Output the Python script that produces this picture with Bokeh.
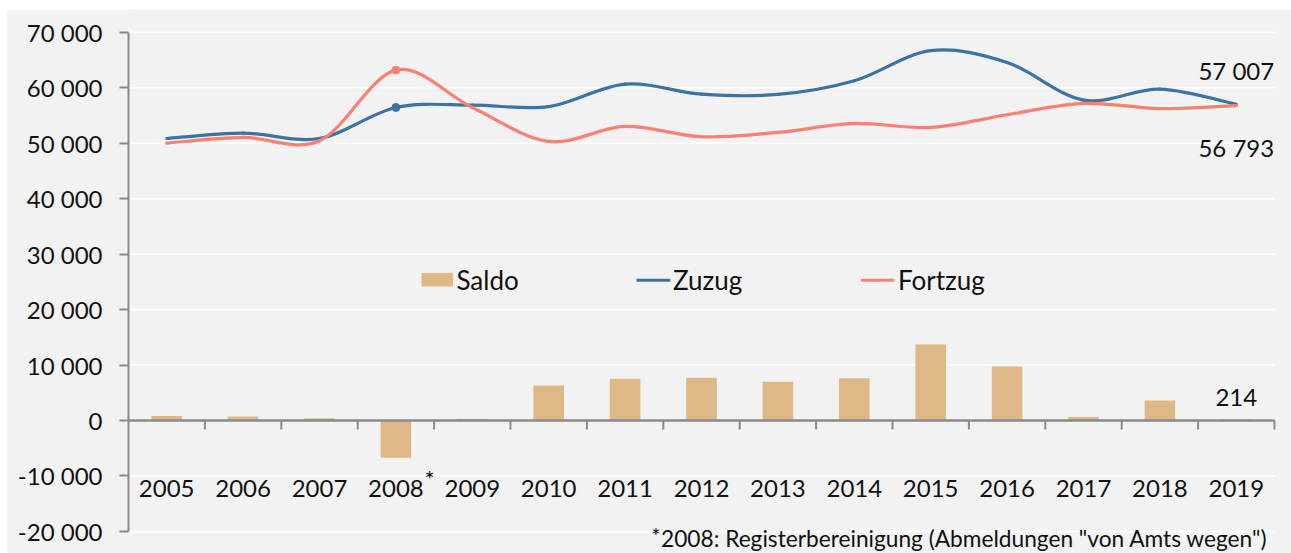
from bokeh.plotting import figure
from bokeh.models import Range1d, FixedTicker
from bokeh.core.properties import value
from bokeh.embed import file_html
from bokeh.resources import INLINE

# ---------------- data ----------------
years = ["2005", "2006", "2007", "2008", "2009", "2010", "2011", "2012",
         "2013", "2014", "2015", "2016", "2017", "2018", "2019"]
zuzug = [50860, 51840, 50860, 56450, 56880, 56600, 60660, 58860,
         58800, 61260, 66700, 64570, 57780, 59750, 57007]
fortzug = [50030, 51050, 50450, 63190, 56450, 50330, 53030, 51170,
           51950, 53570, 52850, 55140, 57180, 56250, 56793]
saldo = [830, 700, 400, -6700, 300, 6300, 7550, 7700,
         6970, 7600, 13700, 9730, 650, 3600, 214]
y_ticks = [-20000, -10000, 0, 10000, 20000, 30000, 40000, 50000, 60000, 70000]
y_tick_labels = ["-20 000", "-10 000", "0", "10 000", "20 000", "30 000",
                 "40 000", "50 000", "60 000", "70 000"]
series_names = ["Saldo", "Zuzug", "Fortzug"]
footnote_mark = "*"
footnote_text = "2008: Registerbereinigung  (Abmeldungen \"von Amts wegen\")"
marked_year = "2008"

# ---------------- style ----------------
BG = "#f2f2f2"
BLUE = "#3b74a3"
SALMON = "#fa8072"
BAR = "#deb887"
AXIS = "#8a8a8a"
TXT = "#111111"
FONT = "Lato"

OX, OY = 6, 9                # figure origin on the page
W, H = 1291 - OX, 553 - OY
AXIS_X = 128                 # page x of the value axis
ZERO_Y = 420                 # page y of value 0
CAT_PX = 76.4                # pixels per category
Y_PX = 55.45 / 10000         # pixels per unit
LEFT = AXIS_X - OX
TS = 9                       # text baseline correction (px)


def fx(page_x):  # page pixel x -> data x
    return (page_x - AXIS_X) / CAT_PX - 0.5


def fy(page_y):  # page pixel y -> data y
    return (ZERO_Y - page_y) / Y_PX


def ty(page_y):  # text baseline page y -> data y
    return fy(page_y - TS)


def fmt(v):
    s = f"{abs(v):,}".replace(",", " ")
    return ("-" if v < 0 else "") + s


n = len(years)
idx = list(range(n))

p = figure(width=W, height=H, output_backend="svg", toolbar_location=None,
           x_range=Range1d(-0.5, fx(1291)), y_range=Range1d(fy(553), fy(OY)),
           x_axis_location=None, min_border_left=LEFT, min_border_right=0,
           min_border_top=0, min_border_bottom=0,
           background_fill_color=BG, border_fill_color=BG,
           outline_line_color=None,
           styles={"margin-left": f"{OX}px", "margin-top": f"{OY}px"})
p.xgrid.visible = False
p.ygrid.visible = False

# y axis
ax = p.yaxis[0]
ax.ticker = FixedTicker(ticks=y_ticks)
ax.major_label_overrides = {t: l for t, l in zip(y_ticks, y_tick_labels)}
ax.bounds = (y_ticks[0], y_ticks[-1])
ax.axis_line_color = AXIS
ax.axis_line_width = 2
ax.major_tick_line_color = AXIS
ax.major_tick_line_width = 2
ax.major_tick_out = 9
ax.major_tick_in = 0
ax.minor_tick_line_color = None
ax.major_label_standoff = 17
ax.major_label_text_font = FONT
ax.major_label_text_font_size = "24px"
ax.major_label_text_color = TXT

# gridlines (white) between category axis ends
grid_y = [t for t in y_ticks if t != 0]
p.segment(x0=[-0.5] * len(grid_y), x1=[n - 0.5] * len(grid_y), y0=grid_y, y1=grid_y,
          line_color="white", line_width=1.5)

# bars
p.vbar(x=idx, top=saldo, bottom=0, width=0.4, fill_color=BAR, line_color=None)

# category axis at zero
p.segment(x0=[-0.5], x1=[n - 0.5], y0=[0], y1=[0], line_color=AXIS, line_width=2.5)
bounds = [i + 0.5 for i in range(n)]
p.segment(x0=bounds, x1=bounds, y0=[0] * n, y1=[-9 / Y_PX] * n,
          line_color=AXIS, line_width=2)


# smoothed lines (Bezier through the data points)
def smooth(vals, color):
    x0, y0, x1, y1, cx0, cy0, cx1, cy1 = [], [], [], [], [], [], [], []
    m = len(vals)
    for i in range(m - 1):
        a = i - 1 if i > 0 else i
        d = i + 2 if i + 2 < m else i + 1
        x0.append(i); y0.append(vals[i])
        x1.append(i + 1); y1.append(vals[i + 1])
        cx0.append(i + (i + 1 - a) / 6); cy0.append(vals[i] + (vals[i + 1] - vals[a]) / 6)
        cx1.append(i + 1 - (d - i) / 6); cy1.append(vals[i + 1] - (vals[d] - vals[i]) / 6)
    p.bezier(x0=x0, y0=y0, x1=x1, y1=y1, cx0=cx0, cy0=cy0, cx1=cx1, cy1=cy1,
             line_color=color, line_width=3.2, line_cap="round")


smooth(zuzug, BLUE)
smooth(fortzug, SALMON)

mi = years.index(marked_year)
p.scatter(x=[mi], y=[zuzug[mi]], size=8, fill_color=BLUE, line_color=BLUE)
p.scatter(x=[mi], y=[fortzug[mi]], size=8, fill_color=SALMON, line_color=SALMON)

# category labels
p.text(x=idx, y=[ty(497)] * n, text=years, text_font=value(FONT),
       text_font_size=value("24px"), text_align="center", text_baseline="alphabetic",
       text_color=TXT)
p.text(x=[fx(424)], y=[ty(487)], text=[footnote_mark], text_font=value(FONT),
       text_font_size=value("24px"), text_align="left", text_baseline="alphabetic",
       text_color=TXT)

# end labels
last = n - 1
p.text(x=[last], y=[zuzug[-1]], y_offset=-25 - TS, text=[fmt(zuzug[-1])], text_font=value(FONT),
       text_font_size=value("24px"), text_align="center", text_baseline="alphabetic",
       text_color=TXT)
p.text(x=[last], y=[fortzug[-1]], y_offset=51 - TS, text=[fmt(fortzug[-1])], text_font=value(FONT),
       text_font_size=value("24px"), text_align="center", text_baseline="alphabetic",
       text_color=TXT)
p.text(x=[last], y=[saldo[-1]], y_offset=-13 - TS, text=[fmt(saldo[-1])], text_font=value(FONT),
       text_font_size=value("24px"), text_align="center", text_baseline="alphabetic",
       text_color=TXT)

# legend (manual)
p.quad(left=[fx(421)], right=[fx(452.4)], top=[fy(272.4)], bottom=[fy(286)],
       fill_color=BAR, line_color=None)
p.segment(x0=[fx(636)], x1=[fx(669.8)], y0=[fy(279.8)], y1=[fy(279.8)],
          line_color=BLUE, line_width=3)
p.segment(x0=[fx(860.4)], x1=[fx(893.7)], y0=[fy(279.8)], y1=[fy(279.8)],
          line_color=SALMON, line_width=3)
p.text(x=[fx(455.9), fx(672.5), fx(897.5)], y=[ty(288.5)] * 3, text=series_names,
       text_font=value(FONT), text_font_size=value("26px"), text_align="left",
       text_baseline="alphabetic", text_color=TXT)

# footnote
p.text(x=[fx(660)], y=[ty(543.5)], text=[footnote_mark], text_font=value(FONT),
       text_font_size=value("22px"), text_align="right", text_baseline="alphabetic",
       text_color=TXT)
p.text(x=[fx(1273)], y=[ty(546.5)], text=[footnote_text], text_font=value(FONT),
       text_font_size=value("22.7px"), text_align="right", text_baseline="alphabetic",
       text_color=TXT)

open("out.html", "w").write(file_html(p, INLINE))
